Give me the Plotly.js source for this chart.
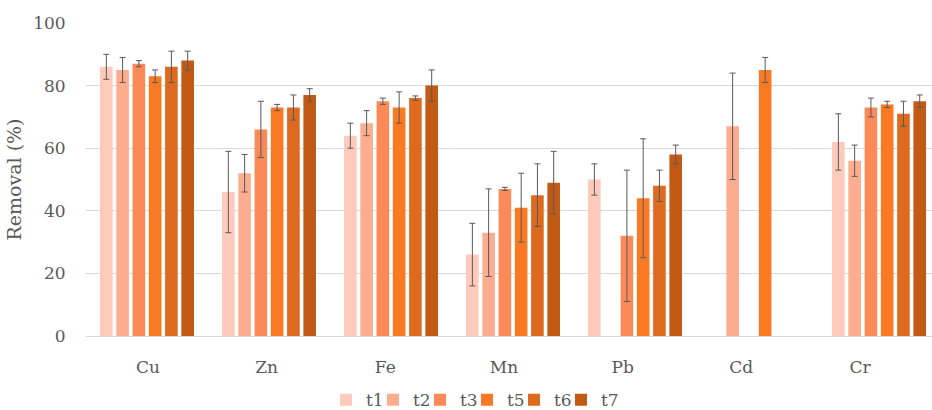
<!DOCTYPE html>
<html>
<head>
<meta charset="utf-8">
<script src="https://cdn.plot.ly/plotly-3.0.1.min.js"></script>
<style>html,body{margin:0;padding:0;background:#fff;}#chart{width:932px;height:410px;}</style>
</head>
<body>
<div id="chart"></div>
<script>
const categories = ["Cu", "Zn", "Fe", "Mn", "Pb", "Cd", "Cr"];
const seriesNames = ["t1", "t2", "t3", "t5", "t6", "t7"];
const t1 = [86, 46, 64, 26, 50, null, 62];
const t1Err = [4, 13, 4, 10, 5, null, 9];
const t2 = [85, 52, 68, 33, null, 67, 56];
const t2Err = [4, 6, 4, 14, null, 17, 5];
const t3 = [87, 66, 75, 47, 32, null, 73];
const t3Err = [1, 9, 1, 0.5, 21, null, 3];
const t5 = [83, 73, 73, 41, 44, 85, 74];
const t5Err = [2, 1, 5, 11, 19, 4, 1];
const t6 = [86, 73, 76, 45, 48, null, 71];
const t6Err = [5, 4, 0.7, 10, 5, null, 4];
const t7 = [88, 77, 80, 49, 58, null, 75];
const t7Err = [3, 2, 5, 10, 3, null, 2];
const yTicks = [0, 20, 40, 60, 80, 100];
const colors = ["#FDCABB", "#FCAD90", "#FB8A58", "#F97A22", "#DE6A1F", "#C25A16"];

const values = [t1, t2, t3, t5, t6, t7];
const errs = [t1Err, t2Err, t3Err, t5Err, t6Err, t7Err];
const idx = categories.map((c, i) => i);

const legendKeys = seriesNames.map((n, k) => (k === 0 ? "legend" : "legend" + (k + 1)));

const traces = values.map((v, k) => ({
  type: "bar",
  name: seriesNames[k],
  legend: legendKeys[k],
  x: idx,
  y: v,
  marker: {color: colors[k], line: {width: 0}},
  error_y: {type: "data", array: errs[k], visible: true, color: "#595959", thickness: 1, width: 3},
  hoverinfo: "skip"
}));
traces.push({type: "scatter", mode: "markers", x: idx, y: idx.map(() => null), xaxis: "x2", showlegend: false, hoverinfo: "skip"});

const font = "DejaVu Serif";
const fs = 17;
const layout = {
  width: 932, height: 410,
  margin: {l: 86, r: 0, t: 23, b: 74, autoexpand: false},
  paper_bgcolor: "#fff", plot_bgcolor: "#fff",
  barmode: "group", bargap: 0.2, bargroupgap: 0.225,
  font: {family: font, color: "#595959", size: fs},
  showlegend: true,
  xaxis: {range: [-0.5, 6.434], showticklabels: false, showgrid: false, zeroline: false, ticks: "", fixedrange: true},
  xaxis2: {overlaying: "x", anchor: "y", range: [-0.522, 6.607], tickmode: "array", tickvals: idx, ticktext: categories,
    showgrid: false, zeroline: false, showline: false, ticks: "outside", ticklen: 16, tickcolor: "rgba(0,0,0,0)",
    tickfont: {family: font, size: fs, color: "#595959"}},
  yaxis: {range: [0, 100], tickvals: yTicks, showgrid: true, gridcolor: "#D9D9D9", gridwidth: 1,
    zeroline: true, zerolinecolor: "#D9D9D9", zerolinewidth: 1,
    ticks: "outside", ticklen: 16, tickcolor: "rgba(0,0,0,0)",
    tickfont: {family: font, size: fs, color: "#595959"},
    title: {text: "Removal (%)", font: {family: font, size: 19, color: "#595959"}, standoff: 6}}
};
// one small legend per series so the spacing between entries matches the reference
const legendLeftPx = 326, legendStepPx = 47, plotLeft = 86, plotWidth = 846;
legendKeys.forEach((key, k) => {
  layout[key] = {orientation: "h", xref: "paper", x: (legendLeftPx + k * legendStepPx - plotLeft) / plotWidth,
    xanchor: "left", y: -0.205, yanchor: "middle", bgcolor: "rgba(0,0,0,0)",
    font: {family: font, size: fs, color: "#595959"}, itemwidth: 30};
});
Plotly.newPlot("chart", traces, layout, {displayModeBar: false, staticPlot: true});
</script>
</body>
</html>
